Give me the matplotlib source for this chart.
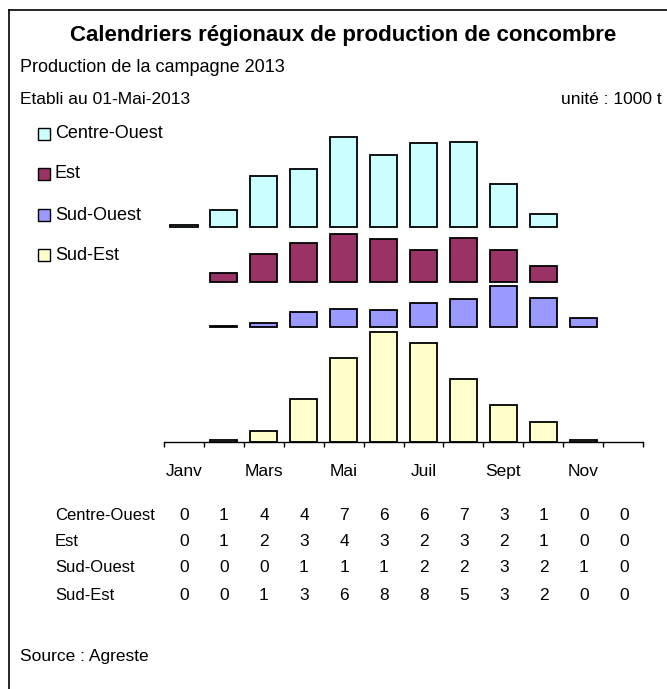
import matplotlib
matplotlib.use("Agg")
import matplotlib.pyplot as plt
from matplotlib.lines import Line2D
from matplotlib.patches import Rectangle
import numpy as np

plt.rcParams['font.family'] = ['Liberation Sans', 'DejaVu Sans']

# ---------------- data ----------------
month_labels = ["Janv", "", "Mars", "", "Mai", "", "Juil", "", "Sept", "", "Nov", ""]
series_names = ["Centre-Ouest", "Est", "Sud-Ouest", "Sud-Est"]
series_colors = ["#CCFFFF", "#993366", "#9999FF", "#FFFFCC"]

centre_ouest = [0.1, 1.3, 3.9, 4.45, 6.9, 5.55, 6.4, 6.55, 3.25, 1.0, 0, 0]
est = [0, 0.64, 2.15, 3.0, 3.7, 3.28, 2.44, 3.4, 2.44, 1.18, 0, 0]
sud_ouest = [0, 0.1, 0.33, 1.15, 1.4, 1.3, 1.85, 2.13, 3.13, 2.25, 0.72, 0]
sud_est = [0, 0.1, 0.85, 3.25, 6.45, 8.4, 7.6, 4.8, 2.8, 1.55, 0.1, 0]

# vertical offset (baseline) of each series in the ridge layout
baselines = [16.54, 12.3, 8.82, 0.0]

table_centre_ouest = [0, 1, 4, 4, 7, 6, 6, 7, 3, 1, 0, 0]
table_est = [0, 1, 2, 3, 4, 3, 2, 3, 2, 1, 0, 0]
table_sud_ouest = [0, 0, 0, 1, 1, 1, 2, 2, 3, 2, 1, 0]
table_sud_est = [0, 0, 1, 3, 6, 8, 8, 5, 3, 2, 0, 0]

# ---------------- figure ----------------
W, H = 667, 689
fig = plt.figure(figsize=(W / 100, H / 100), dpi=100)
fig.patch.set_facecolor("white")


def fx(x):
    return x / W


def fy(y):
    return 1 - y / H


# frame lines (top and left)
fig.add_artist(Line2D([fx(9), 1.0], [fy(10), fy(10)], color="black", lw=1.2))
fig.add_artist(Line2D([fx(9), fx(9)], [fy(10), 0.0], color="black", lw=1.2))

# titles
fig.text(fx(343), fy(36), "Calendriers régionaux de production de concombre",
         ha="center", va="center", fontsize=16, fontweight="bold")
fig.text(fx(20), fy(68), "Production de la campagne 2013", ha="left", va="center", fontsize=13)
fig.text(fx(20), fy(100), "Etabli au 01-Mai-2013", ha="left", va="center", fontsize=12.5)
fig.text(fx(662), fy(100), "unité : 1000 t", ha="right", va="center", fontsize=12.5)
fig.text(fx(20), fy(657), "Source : Agreste", ha="left", va="center", fontsize=12.5)

# legend
legend_y = [134, 174, 215, 255]
for name, col, ly in zip(series_names, series_colors, legend_y):
    fig.add_artist(Rectangle((fx(38), fy(ly + 6)), 12 / W, 12 / H, transform=fig.transFigure,
                             facecolor=col, edgecolor="black", lw=1.0))
    fig.text(fx(55), fy(ly), name, ha="left", va="center", fontsize=13)

# main axes
base_px = 441.7
top_px = 120
ax = fig.add_axes([fx(164), fy(base_px), (643 - 164) / W, (base_px - top_px) / H])
k = 13.0  # pixels per unit
ax.set_xlim(0, 12)
ax.set_ylim(0, (base_px - top_px) / k)

x = np.arange(12) + 0.5
all_series = [centre_ouest, est, sud_ouest, sud_est]
for vals, base, col in zip(all_series, baselines, series_colors):
    vals = np.asarray(vals, dtype=float)
    m = vals > 0
    ax.bar(x[m], vals[m], width=0.68, bottom=base, color=col,
           edgecolor="black", linewidth=1.3)

for s in ["left", "right", "top"]:
    ax.spines[s].set_visible(False)
ax.spines["bottom"].set_linewidth(1.0)
ax.set_yticks([])
ax.set_xticks(np.arange(13))
ax.set_xticklabels([])
ax.tick_params(axis="x", which="major", direction="out", length=3.5, width=1.0)
ax.set_xticks(x, month_labels, minor=True)
ax.tick_params(axis="x", which="minor", length=0, pad=16, labelsize=12.5)

# data table
table_rows = [table_centre_ouest, table_est, table_sud_ouest, table_sud_est]
row_y = [515, 541, 568, 595]
for name, row, ry in zip(series_names, table_rows, row_y):
    fig.text(fx(55), fy(ry), name, ha="left", va="center", fontsize=12)
    for i, v in enumerate(row):
        fig.text(fx(184 + 40 * i), fy(ry), str(v), ha="center", va="center", fontsize=12.5)

fig.savefig("out.png", dpi=100, facecolor="white")
